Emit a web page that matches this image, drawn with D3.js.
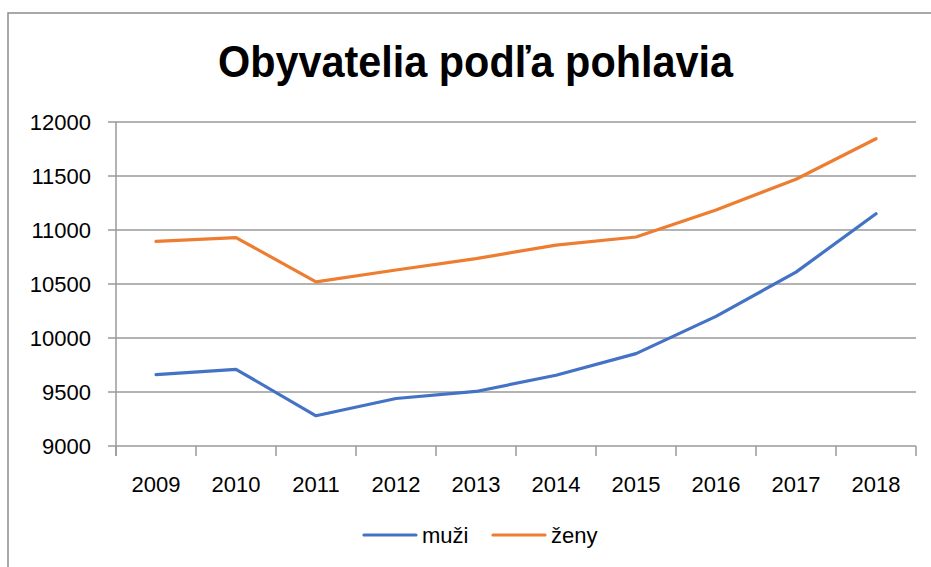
<!DOCTYPE html>
<html>
<head>
<meta charset="utf-8">
<script src="https://cdn.jsdelivr.net/npm/d3@7"></script>
<style>
  html, body { margin: 0; padding: 0; background: #fff; }
  svg { display: block; }
  text { font-family: "Liberation Sans", Arial, sans-serif; fill: #000; }
</style>
</head>
<body>
<svg id="chart" width="931" height="567"></svg>
<script>
// ── Data ───────────────────────────────────────────────────────────────────
const years   = ['2009', '2010', '2011', '2012', '2013', '2014', '2015', '2016', '2017', '2018'];
const muzi    = [9660, 9710, 9280, 9440, 9505, 9655, 9855, 10200, 10610, 11150];
const zeny    = [10895, 10930, 10520, 10630, 10735, 10860, 10935, 11185, 11470, 11845];
const yTicks  = [9000, 9500, 10000, 10500, 11000, 11500, 12000];

const seriesNames  = ['muži', 'ženy'];
const seriesColors = ['#4472C4', '#ED7D31'];

// ── Layout ─────────────────────────────────────────────────────────────────
const svg = d3.select('#chart');
const plot = { left: 116, right: 916, top: 122, bottom: 446 };

// chart frame (right/bottom edges fall outside the picture)
svg.append('rect')
  .attr('x', 8).attr('y', 13)
  .attr('width', 960).attr('height', 600)
  .attr('fill', '#fff')
  .attr('stroke', '#8c8c8c').attr('stroke-width', 1.5);

const x = d3.scaleBand().domain(years).range([plot.left, plot.right]);
const y = d3.scaleLinear().domain([9000, 12000]).range([plot.bottom, plot.top]);

// ── Gridlines ──────────────────────────────────────────────────────────────
svg.append('g')
  .selectAll('line')
  .data(yTicks)
  .join('line')
  .attr('x1', plot.left - 8).attr('x2', plot.right)
  .attr('y1', d => y(d)).attr('y2', d => y(d))
  .attr('stroke', '#9a9a9a').attr('stroke-width', 1.5);

// ── Axes ───────────────────────────────────────────────────────────────────
svg.append('line')
  .attr('x1', plot.left).attr('x2', plot.left)
  .attr('y1', plot.top).attr('y2', plot.bottom + 10)
  .attr('stroke', '#9a9a9a').attr('stroke-width', 1.5);

const xAxis = d3.axisBottom(x).tickSize(0).tickPadding(0);
const gx = svg.append('g')
  .attr('transform', `translate(0,${plot.bottom})`)
  .call(xAxis);
gx.select('.domain').remove();
gx.selectAll('text')
  .attr('y', 46).attr('dy', 0)
  .style('font-size', '22px')
  .style('font-family', '"Liberation Sans", Arial, sans-serif');

// category boundary ticks
svg.append('g')
  .selectAll('line')
  .data(years.concat(['end']))
  .join('line')
  .attr('x1', (d, i) => plot.left + i * x.step())
  .attr('x2', (d, i) => plot.left + i * x.step())
  .attr('y1', plot.bottom).attr('y2', plot.bottom + 10)
  .attr('stroke', '#9a9a9a').attr('stroke-width', 1.5);

const gy = svg.append('g')
  .attr('transform', `translate(${plot.left},0)`)
  .call(d3.axisLeft(y).tickValues(yTicks).tickSize(0).tickFormat(d3.format('d')));
gy.select('.domain').remove();
gy.selectAll('text')
  .attr('x', -25).attr('dy', '0.36em')
  .style('font-size', '22px')
  .style('font-family', '"Liberation Sans", Arial, sans-serif');

// ── Lines ──────────────────────────────────────────────────────────────────
const line = d3.line()
  .x((d, i) => x(years[i]) + x.bandwidth() / 2)
  .y(d => y(d));

[muzi, zeny].forEach((vals, k) => {
  svg.append('path')
    .datum(vals)
    .attr('d', line)
    .attr('fill', 'none')
    .attr('stroke', seriesColors[k])
    .attr('stroke-width', 3.2)
    .attr('stroke-linejoin', 'round')
    .attr('stroke-linecap', 'round');
});

// ── Title ──────────────────────────────────────────────────────────────────
svg.append('text')
  .attr('x', 475.5).attr('y', 77)
  .attr('text-anchor', 'middle')
  .attr('textLength', 515).attr('lengthAdjust', 'spacingAndGlyphs')
  .style('font-size', '45px').style('font-weight', 'bold')
  .text('Obyvatelia podľa pohlavia');

// ── Legend ─────────────────────────────────────────────────────────────────
const legendX = [364, 493];
const legend = svg.append('g');
seriesNames.forEach((name, k) => {
  legend.append('line')
    .attr('x1', legendX[k]).attr('x2', legendX[k] + 52)
    .attr('y1', 535).attr('y2', 535)
    .attr('stroke', seriesColors[k]).attr('stroke-width', 3.2)
    .attr('stroke-linecap', 'round');
  legend.append('text')
    .attr('x', legendX[k] + 58).attr('y', 543)
    .style('font-size', '22px')
    .text(name);
});
</script>
</body>
</html>
